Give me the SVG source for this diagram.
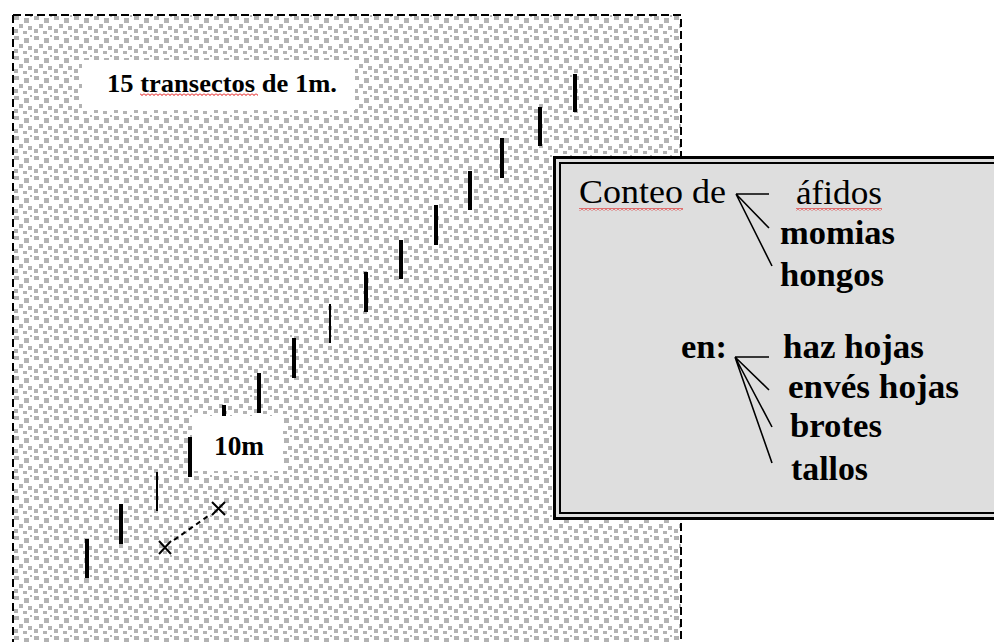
<svg xmlns="http://www.w3.org/2000/svg" width="994" height="642" viewBox="0 0 994 642">
  <defs>
    <!-- speckled grey ground texture -->
    <pattern id="speckle" x="13" y="15" width="20" height="20" patternUnits="userSpaceOnUse">
      <rect width="20" height="20" fill="#ffffff"/>
      <g fill="#b3b3b3">
        <rect x="1" y="1" width="5" height="4"/>
        <rect x="11" y="3" width="5" height="5"/>
        <rect x="6" y="9" width="4" height="4"/>
        <rect x="15" y="11" width="4" height="4"/>
        <rect x="1" y="14" width="4" height="4"/>
        <rect x="10" y="16" width="4" height="3"/>
        <rect x="17" y="0" width="2" height="2"/>
      </g>
    </pattern>
    <!-- spell-check squiggle -->
    <pattern id="squiggle" x="0" y="0" width="4" height="3" patternUnits="userSpaceOnUse">
      <path d="M0 0.5 L2 2.5 L4 0.5" fill="none" stroke="#e00000" stroke-width="1"/>
    </pattern>
  </defs>
  <style>
    .serif { font-family: "Liberation Serif", "Times New Roman", serif; fill: #000; }
    .b { font-weight: bold; }
    .bar { stroke: #000; stroke-width: 4; }
    .bar.thin { stroke-width: 2; }
    .edge { fill: none; stroke: #000; stroke-width: 2; stroke-dasharray: 8 4; }
    .link { fill: none; stroke: #000; stroke-width: 1.6; }
  </style>

  <rect width="994" height="642" fill="#ffffff"/>

  <!-- sampling plot -->
  <g id="plot">
    <rect x="13" y="15" width="668" height="627" fill="url(#speckle)"/>
    <path class="edge" d="M13 15 H681 V642 M13 15 V642"/>
  </g>

  <g id="title">
    <rect x="82" y="60" width="273" height="50" fill="#ffffff"/>
    <text class="serif b" x="107" y="92" font-size="25" textLength="230" lengthAdjust="spacingAndGlyphs">15 transectos de 1m.</text>
    <rect x="140" y="93" width="118" height="3" fill="url(#squiggle)"/>
  </g>

  <!-- 15 transects -->
  <g id="transects">
    <line class="bar" x1="87" y1="539" x2="87" y2="578"/>
    <line class="bar" x1="121" y1="504" x2="121" y2="544"/>
    <line class="bar thin" x1="157" y1="472" x2="157" y2="511"/>
    <line class="bar" x1="190" y1="437" x2="190" y2="477"/>
    <line class="bar" x1="224" y1="405" x2="224" y2="444"/>
    <line class="bar" x1="259" y1="373" x2="259" y2="413"/>
    <line class="bar" x1="294" y1="338" x2="294" y2="378"/>
    <line class="bar thin" x1="330" y1="304" x2="330" y2="343"/>
    <line class="bar" x1="366" y1="272" x2="366" y2="312"/>
    <line class="bar" x1="401" y1="240" x2="401" y2="279"/>
    <line class="bar" x1="436" y1="205" x2="436" y2="245"/>
    <line class="bar" x1="470" y1="171" x2="470" y2="210"/>
    <line class="bar" x1="502" y1="138" x2="502" y2="178"/>
    <line class="bar" x1="540" y1="107" x2="540" y2="146"/>
    <line class="bar" x1="575" y1="74" x2="575" y2="112"/>
  </g>

  <g id="spacing-label">
    <rect x="193" y="416" width="90" height="55" fill="#ffffff"/>
    <text class="serif b" x="214" y="455" font-size="28" textLength="50" lengthAdjust="spacingAndGlyphs">10m</text>
  </g>

  <!-- 10 m distance marker -->
  <g id="spacing-marker" fill="none" stroke="#000" stroke-width="2">
    <path d="M159 541 L171 554 M171 541 L159 554"/>
    <path d="M212 502 L225 515 M225 502 L212 515"/>
    <path d="M174 540 L211 514" stroke-dasharray="5 4"/>
  </g>

  <!-- counting panel -->
  <g id="panel">
    <rect x="554.5" y="157.5" width="500" height="361" fill="#dedede" stroke="#000" stroke-width="3"/>
    <rect x="560" y="163" width="500" height="350" fill="none" stroke="#000" stroke-width="2"/>

    <text class="serif" x="579" y="203" font-size="33" textLength="147" lengthAdjust="spacingAndGlyphs">Conteo de</text>
    <rect x="579" y="208" width="104" height="3" fill="url(#squiggle)"/>
    <text class="serif" x="796" y="204" font-size="33" textLength="86" lengthAdjust="spacingAndGlyphs">áfidos</text>
    <rect x="796" y="208" width="86" height="3" fill="url(#squiggle)"/>
    <text class="serif b" x="780" y="244" font-size="34" textLength="115" lengthAdjust="spacingAndGlyphs">momias</text>
    <text class="serif b" x="780" y="286" font-size="34" textLength="104" lengthAdjust="spacingAndGlyphs">hongos</text>

    <text class="serif b" x="681" y="358" font-size="34" textLength="46" lengthAdjust="spacingAndGlyphs">en:</text>
    <text class="serif b" x="783" y="358" font-size="34" textLength="141" lengthAdjust="spacingAndGlyphs">haz hojas</text>
    <text class="serif b" x="788" y="398" font-size="34" textLength="171" lengthAdjust="spacingAndGlyphs">envés hojas</text>
    <text class="serif b" x="790" y="437" font-size="34" textLength="92" lengthAdjust="spacingAndGlyphs">brotes</text>
    <text class="serif b" x="791" y="480" font-size="34" textLength="77" lengthAdjust="spacingAndGlyphs">tallos</text>
  </g>

  <g id="connectors">
    <path class="link" d="M736 194 H769 M736 194 L769 228 M736 194 L772 266"/>
    <path class="link" d="M735 357 H769 M735 357 L769 390 M735 357 L772 427 M735 357 L772 463"/>
  </g>
</svg>
